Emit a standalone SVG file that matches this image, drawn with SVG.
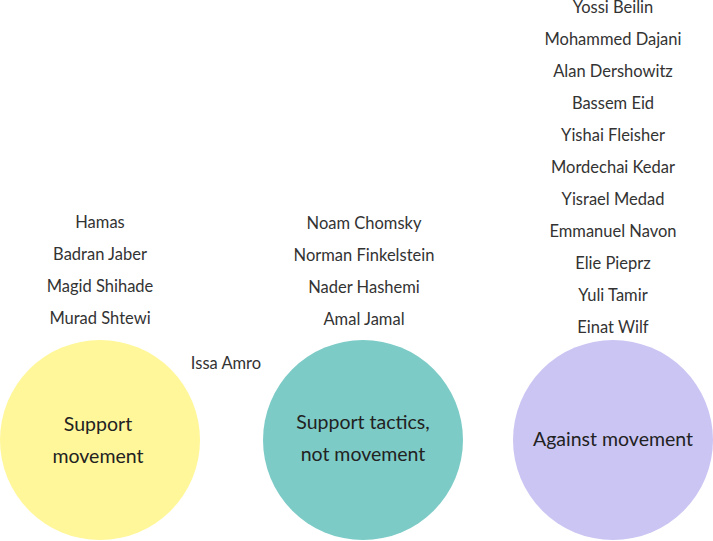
<svg xmlns="http://www.w3.org/2000/svg" width="713" height="541" viewBox="0 0 713 541">
<style>
.n{font-family:Lato,"Open Sans","Liberation Sans",sans-serif;font-size:16.5px;fill:#333;text-anchor:middle;dominant-baseline:central}
.c{font-family:Lato,"Open Sans","Liberation Sans",sans-serif;font-size:19.5px;fill:#222;text-anchor:middle;dominant-baseline:central}
</style>
<rect width="713" height="541" fill="#fff"/>
<g id="support">
<circle cx="100" cy="440" r="100" fill="#fff799"/>
<text class="c" x="98" y="423">Support</text>
<text class="c" x="98" y="455">movement</text>
</g>
<g id="tactics">
<circle cx="363" cy="440" r="100" fill="#7ccbc7"/>
<text class="c" x="363" y="421">Support tactics,</text>
<text class="c" x="363" y="453">not movement</text>
</g>
<g id="against">
<circle cx="613" cy="440" r="100" fill="#cbc5f3"/>
<text class="c" x="613" y="438">Against movement</text>
</g>
<g id="support-names">
<text class="n" x="100" y="222">Hamas</text>
<text class="n" x="100" y="254">Badran Jaber</text>
<text class="n" x="100" y="286">Magid Shihade</text>
<text class="n" x="100" y="318">Murad Shtewi</text>
</g>
<g id="between">
<text class="n" x="226" y="363">Issa Amro</text>
</g>
<g id="tactics-names">
<text class="n" x="364" y="223">Noam Chomsky</text>
<text class="n" x="364" y="255">Norman Finkelstein</text>
<text class="n" x="364" y="287">Nader Hashemi</text>
<text class="n" x="364" y="319">Amal Jamal</text>
</g>
<g id="against-names">
<text class="n" x="613" y="7">Yossi Beilin</text>
<text class="n" x="613" y="39">Mohammed Dajani</text>
<text class="n" x="613" y="71">Alan Dershowitz</text>
<text class="n" x="613" y="103">Bassem Eid</text>
<text class="n" x="613" y="135">Yishai Fleisher</text>
<text class="n" x="613" y="167">Mordechai Kedar</text>
<text class="n" x="613" y="199">Yisrael Medad</text>
<text class="n" x="613" y="231">Emmanuel Navon</text>
<text class="n" x="613" y="263">Elie Pieprz</text>
<text class="n" x="613" y="295">Yuli Tamir</text>
<text class="n" x="613" y="327">Einat Wilf</text>
</g>
<g id="connectors"></g>
</svg>
